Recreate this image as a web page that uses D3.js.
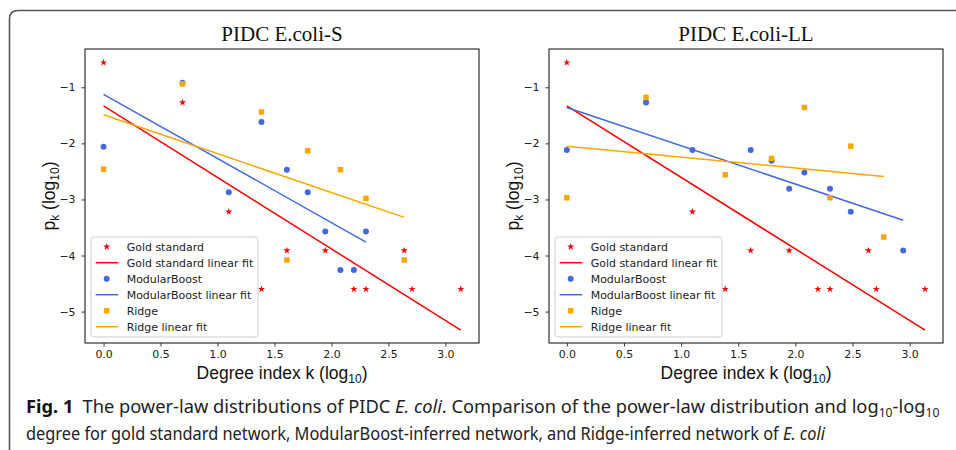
<!DOCTYPE html>
<html>
<head>
<meta charset="utf-8">
<script src="https://cdn.jsdelivr.net/npm/d3@7"></script>
<style>
  body { margin: 0; background: #fff; }
  svg { display: block; }
</style>
</head>
<body>
<svg width="956" height="450"></svg>
<script>
// degree index (ln k) and p_k values
const goldX = [0, 0.693, 1.099, 1.386, 1.609, 1.946, 2.197, 2.303, 2.639, 2.708, 3.135];
const goldY = [-0.56, -1.27, -3.22, -4.60, -3.91, -3.91, -4.60, -4.60, -3.91, -4.60, -4.60];

const mbX_S = [0, 0.693, 1.099, 1.386, 1.609, 1.792, 1.946, 2.079, 2.197, 2.303];
const mbY_S = [-2.06, -0.92, -2.87, -1.62, -2.47, -2.87, -3.57, -4.26, -4.26, -3.57];
const ridgeX_S = [0, 0.693, 1.386, 1.609, 1.792, 2.079, 2.303, 2.639];
const ridgeY_S = [-2.46, -0.94, -1.44, -4.08, -2.13, -2.47, -2.98, -4.08];

const mbX_LL = [0, 0.693, 1.099, 1.609, 1.792, 1.946, 2.079, 2.303, 2.485, 2.944];
const mbY_LL = [-2.12, -1.27, -2.12, -2.12, -2.31, -2.81, -2.52, -2.81, -3.22, -3.91];
const ridgeX_LL = [0, 0.693, 1.386, 1.792, 2.079, 2.303, 2.485, 2.773];
const ridgeY_LL = [-2.97, -1.18, -2.56, -2.27, -1.36, -2.97, -2.05, -3.67];

// linear fit end points [x, y]
const goldFit = [[0, -1.33], [3.135, -5.33]];
const mbFit_S = [[0, -1.125], [2.303, -3.76]];
const ridgeFit_S = [[0, -1.49], [2.639, -3.32]];
const mbFit_LL = [[0, -1.36], [2.944, -3.37]];
const ridgeFit_LL = [[0, -2.05], [2.773, -2.59]];

const xTicks = [0, 0.5, 1, 1.5, 2, 2.5, 3];
const yTicks = [-1, -2, -3, -4, -5];
const legendLabels = ["Gold standard", "Gold standard linear fit", "ModularBoost",
  "ModularBoost linear fit", "Ridge", "Ridge linear fit"];

const RED = "#ff0000", BLUE = "#4169e1", ORANGE = "#ffa500";

const svg = d3.select("svg");
svg.append("rect").attr("width", 956).attr("height", 450).attr("fill", "#fff");

// outer frame with rounded top-left corner
svg.append("path")
  .attr("d", "M9.5,452 L9.5,19 Q9.5,10.5 18,10.5 L958,10.5")
  .attr("fill", "none").attr("stroke", "#555").attr("stroke-width", 1.6);

const sans = "'DejaVu Sans', Verdana, sans-serif";
const arial = "'Liberation Sans', Arial, sans-serif";

// font size giving a text of the wanted width
function fitSize(str, family, target) {
  const t = svg.append("text").attr("font-family", family).attr("font-size", 20).text(str);
  const w = t.node().getComputedTextLength();
  t.remove();
  return 20 * target / w;
}
const tickSize = fitSize("0.0", sans, 17.4);
const legendSize = fitSize("Gold standard linear fit", sans, 126.7);

function panel(opt) {
  const x = d3.scaleLinear().domain(opt.xDomain).range([opt.left, opt.right]);
  const y = d3.scaleLinear().domain([-5.56, -0.317]).range([343, 49]);
  const g = svg.append("g");

  g.append("text")
    .attr("x", (opt.left + opt.right) / 2).attr("y", 41)
    .attr("text-anchor", "middle")
    .attr("font-family", "'Liberation Serif', 'Times New Roman', serif")
    .attr("font-size", 21).attr("fill", "#111")
    .text(opt.title);

  const series = [
    { xs: goldX, ys: goldY, fit: goldFit, color: RED, sym: d3.symbolStar, size: 16 },
    { xs: opt.mbX, ys: opt.mbY, fit: opt.mbFit, color: BLUE, sym: d3.symbolCircle, size: 28 },
    { xs: opt.ridgeX, ys: opt.ridgeY, fit: opt.ridgeFit, color: ORANGE, sym: d3.symbolSquare, size: 30 }
  ];

  const line = d3.line().x(d => x(d[0])).y(d => y(d[1]));
  series.forEach(s => {
    g.append("g").selectAll("path")
      .data(d3.zip(s.xs, s.ys))
      .join("path")
      .attr("transform", d => `translate(${x(d[0])},${y(d[1])})`)
      .attr("d", d3.symbol(s.sym, s.size))
      .attr("fill", s.color);
    g.append("path").datum(s.fit)
      .attr("d", line)
      .attr("fill", "none").attr("stroke", s.color).attr("stroke-width", 1.5);
  });

  // axes
  const xa = g.append("g").attr("transform", "translate(0,343)")
    .call(d3.axisBottom(x).tickValues(xTicks).tickFormat(d3.format(".1f")).tickSize(3.5).tickPadding(4));
  const ya = g.append("g").attr("transform", `translate(${opt.left},0)`)
    .call(d3.axisLeft(y).tickValues(yTicks).tickFormat(d => "\u2212" + Math.abs(d)).tickSize(3.5).tickPadding(6));
  [xa, ya].forEach(a => {
    a.select(".domain").remove();
    a.selectAll("line").attr("stroke", "#333");
    a.selectAll("text").attr("font-family", sans).attr("font-size", tickSize).attr("fill", "#222");
  });

  g.append("rect")
    .attr("x", opt.left).attr("y", 49)
    .attr("width", opt.right - opt.left).attr("height", 294)
    .attr("fill", "none").attr("stroke", "#333").attr("stroke-width", 1.2);

  // axis labels
  const xl = g.append("text")
    .attr("x", (opt.left + opt.right) / 2).attr("y", 379)
    .attr("text-anchor", "middle")
    .attr("font-family", arial).attr("font-size", 17.5).attr("fill", "#111");
  xl.append("tspan").text("Degree index k (log");
  xl.append("tspan").attr("font-size", 12).attr("dy", 4).text("10");
  xl.append("tspan").attr("dy", -4).text(")");

  const yl = g.append("text")
    .attr("transform", `translate(${opt.left - 30},196) rotate(-90)`)
    .attr("text-anchor", "middle")
    .attr("font-family", arial).attr("font-size", 17.5).attr("fill", "#111");
  yl.append("tspan").text("p");
  yl.append("tspan").attr("font-size", 12).attr("dy", 4).text("k");
  yl.append("tspan").attr("dy", -4).text(" (log");
  yl.append("tspan").attr("font-size", 12).attr("dy", 4).text("10");
  yl.append("tspan").attr("dy", -4).text(")");

  // legend
  const lx = opt.left + 6, ly = 237;
  const lg = g.append("g").attr("transform", `translate(${lx},${ly})`);
  lg.append("rect").attr("width", opt.legendW).attr("height", 100).attr("rx", 3)
    .attr("fill", "#fff").attr("fill-opacity", 0.85).attr("stroke", "#cfcfcf");
  legendLabels.forEach((lab, i) => {
    const s = series[Math.floor(i / 2)];
    const cy = 9.7 + i * 16;
    if (i % 2 === 0) {
      lg.append("path").attr("transform", `translate(15.7,${cy})`)
        .attr("d", d3.symbol(s.sym, s.size)).attr("fill", s.color);
    } else {
      lg.append("line").attr("x1", 4.7).attr("x2", 27.3).attr("y1", cy).attr("y2", cy)
        .attr("stroke", s.color).attr("stroke-width", 1.5);
    }
    lg.append("text").attr("x", 35.7).attr("y", cy + 4.3)
      .attr("font-family", sans).attr("font-size", legendSize).attr("fill", "#222").text(lab);
  });
}

panel({
  title: "PIDC E.coli-S", left: 85, right: 479, xDomain: [-0.163, 3.295],
  mbX: mbX_S, mbY: mbY_S, ridgeX: ridgeX_S, ridgeY: ridgeY_S,
  mbFit: mbFit_S, ridgeFit: ridgeFit_S, legendW: 167
});
panel({
  title: "PIDC E.coli-LL", left: 549, right: 943, xDomain: [-0.156, 3.292],
  mbX: mbX_LL, mbY: mbY_LL, ridgeX: ridgeX_LL, ridgeY: ridgeY_LL,
  mbFit: mbFit_LL, ridgeFit: ridgeFit_LL, legendW: 167
});

// caption, squeezed horizontally to the width of the original lines
const capFont = "'Noto Sans', 'Open Sans', sans-serif";
function captionLine(yPos, width, build) {
  const g = svg.append("g");
  const t = g.append("text").attr("x", 0).attr("y", 0)
    .attr("font-family", capFont).attr("font-size", 18).attr("fill", "#222");
  build(t);
  const w = t.node().getBBox().width;
  g.attr("transform", `translate(26,${yPos}) scale(${width / w},1)`);
}
captionLine(413, 914, t => {
  t.append("tspan").attr("font-weight", "bold").attr("fill", "#111").text("Fig. 1");
  t.append("tspan").text("\u2002The power-law distributions of PIDC ");
  t.append("tspan").attr("font-style", "italic").text("E. coli");
  t.append("tspan").text(". Comparison of the power-law distribution and log");
  t.append("tspan").attr("font-size", 12).attr("dy", 4).text("10");
  t.append("tspan").attr("dy", -4).text("-log");
  t.append("tspan").attr("font-size", 12).attr("dy", 4).text("10");
});
captionLine(440, 800, t => {
  t.append("tspan").text("degree for gold standard network, ModularBoost-inferred network, and Ridge-inferred network of ");
  t.append("tspan").attr("font-style", "italic").text("E. coli");
});
</script>
</body>
</html>
